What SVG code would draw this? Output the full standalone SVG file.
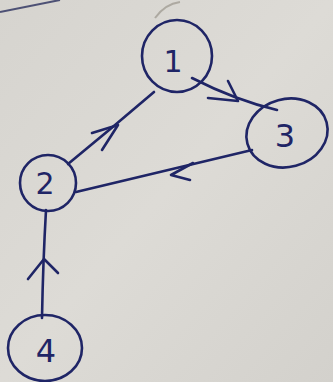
<svg xmlns="http://www.w3.org/2000/svg" width="333" height="382" viewBox="0 0 333 382">
  <defs>
    <linearGradient id="paper" x1="0" y1="0" x2="1" y2="1">
      <stop offset="0" stop-color="#d6d4cf"/>
      <stop offset="0.5" stop-color="#dddbd6"/>
      <stop offset="1" stop-color="#d3d1cc"/>
    </linearGradient>
    <style>
      .ink { fill: none; stroke: #1f2566; stroke-width: 2.6; stroke-linecap: round; stroke-linejoin: round; }
      .label { font-family: "DejaVu Sans", "Liberation Sans", sans-serif; fill: #1f2566; text-anchor: middle; }
    </style>
  </defs>

  <rect width="333" height="382" fill="url(#paper)"/>

  <!-- stray marks at the top edge of the sheet -->
  <path d="M0 12 Q30 6 60 0" fill="none" stroke="#2a2f5e" stroke-width="2" opacity="0.8"/>
  <path d="M155 18 Q165 4 180 2" fill="none" stroke="#9a968c" stroke-width="2" opacity="0.7"/>

  <!-- edges -->
  <g id="edges">
    <!-- 1 -> 3 -->
    <path class="ink" d="M192 78 Q235 100 277 110"/>
    <path class="ink" d="M228 81 L238 101 L208 98"/>
    <!-- 3 -> 2 -->
    <path class="ink" d="M252 150 Q160 172 76 192"/>
    <path class="ink" d="M193 163 L171 175 L190 180"/>
    <!-- 2 -> 1 -->
    <path class="ink" d="M68 164 Q112 128 154 92"/>
    <path class="ink" d="M92 133 L118 125 L102 150"/>
    <!-- 4 -> 2 -->
    <path class="ink" d="M42 318 Q43 262 46 210"/>
    <path class="ink" d="M28 279 L44 259 L58 273"/>
  </g>

  <g id="node1">
    <ellipse class="ink" cx="177" cy="56" rx="35" ry="36"/>
    <text class="label" x="173" y="72" font-size="30">1</text>
  </g>
  <g id="node3">
    <ellipse class="ink" cx="287" cy="133" rx="41" ry="34" transform="rotate(-15 287 133)"/>
    <text class="label" x="285" y="147" font-size="32">3</text>
  </g>
  <g id="node2">
    <ellipse class="ink" cx="48" cy="183" rx="28" ry="28"/>
    <text class="label" x="45" y="194" font-size="30">2</text>
  </g>
  <g id="node4">
    <ellipse class="ink" cx="45" cy="348" rx="37" ry="33"/>
    <text class="label" x="46" y="362" font-size="32">4</text>
  </g>
</svg>
